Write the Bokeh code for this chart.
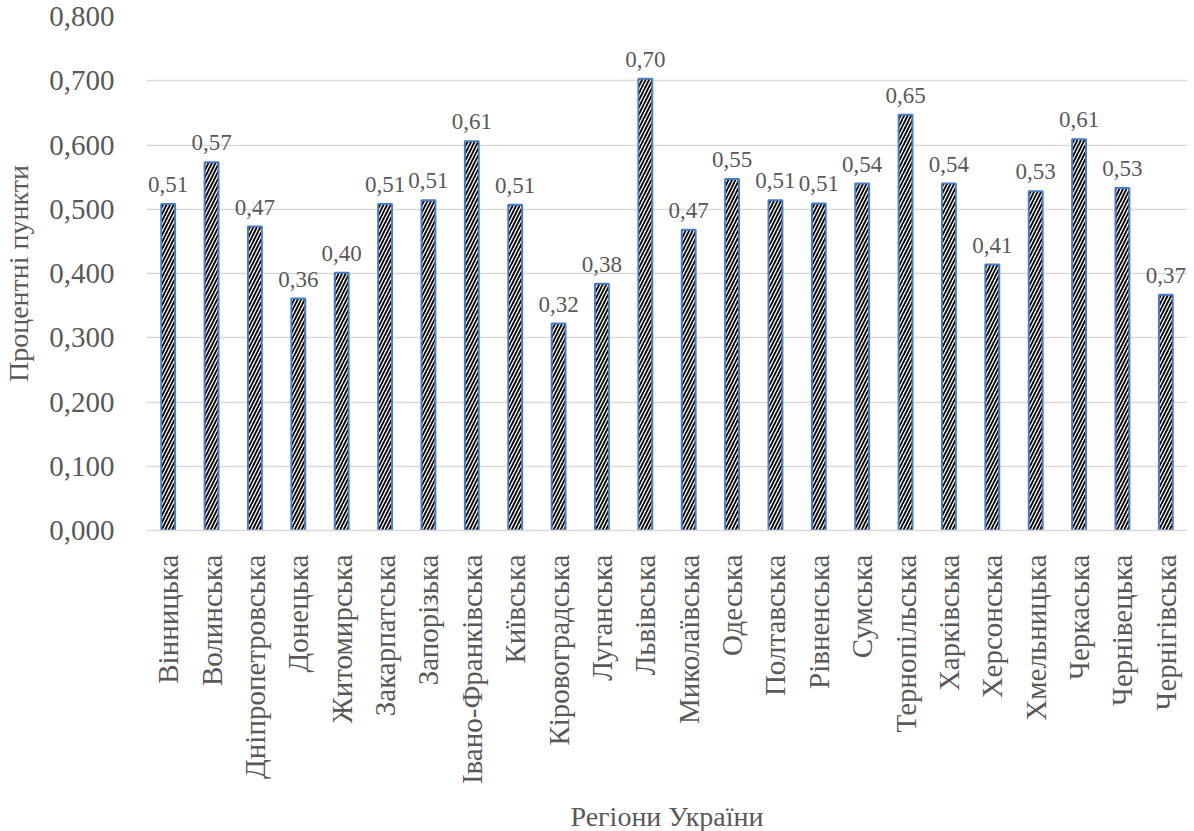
from bokeh.plotting import figure
from bokeh.models import ColumnDataSource, FixedTicker, CustomJSTickFormatter, Range1d, FactorRange, LabelSet
from bokeh.core.properties import value
from bokeh.embed import file_html
from bokeh.resources import INLINE
import math

regions = ["Вінницька", "Волинська", "Дніпропетровська", "Донецька", "Житомирська",
           "Закарпатська", "Запорізька", "Івано-Франківська", "Київська", "Кіровоградська",
           "Луганська", "Львівська", "Миколаївська", "Одеська", "Полтавська", "Рівненська",
           "Сумська", "Тернопільська", "Харківська", "Херсонська", "Хмельницька",
           "Черкаська", "Чернівецька", "Чернігівська"]
values = [0.508, 0.573, 0.473, 0.361, 0.401, 0.508, 0.514, 0.606, 0.507, 0.322,
          0.384, 0.703, 0.468, 0.547, 0.514, 0.509, 0.540, 0.647, 0.540, 0.414,
          0.528, 0.609, 0.533, 0.367]
y_ticks = [0.0, 0.1, 0.2, 0.3, 0.4, 0.5, 0.6, 0.7, 0.8]
y_title = "Процентні пункти"
x_title = "Регіони України"

labels = [("%.2f" % v).replace(".", ",") for v in values]
src = ColumnDataSource(dict(x=regions, y=values, lab=labels))

FONT = "Liberation Serif"
GRAY = "#595959"

p = figure(frame_width=1041, frame_height=514, x_range=FactorRange(*regions), y_range=Range1d(0, 0.8),
           output_backend="svg", toolbar_location=None,
           min_border_left=136, min_border_right=0, min_border_top=16, min_border_bottom=10)
p.outline_line_color = None

p.vbar(x="x", top="y", width=0.32, source=src, fill_color="white",
       line_color="#4A7EC4", line_width=2,
       hatch_pattern="/", hatch_color="black", hatch_scale=7, hatch_weight=1.8)

lbl = LabelSet(x="x", y="y", text="lab", source=src, text_align="center",
               text_baseline="bottom", y_offset=12, text_font=value(FONT),
               text_font_size="23px", text_color=GRAY)
p.add_layout(lbl)

p.yaxis.ticker = FixedTicker(ticks=y_ticks)
p.yaxis.formatter = CustomJSTickFormatter(code="return tick.toFixed(3).replace('.', ',');")
p.yaxis.axis_line_color = None
p.yaxis.major_tick_line_color = None
p.yaxis.minor_tick_line_color = None
p.yaxis.major_label_standoff = 26
p.yaxis.major_label_text_font = FONT
p.yaxis.major_label_text_font_size = "29px"
p.yaxis.major_label_text_color = GRAY
p.yaxis.axis_label = y_title
p.yaxis.axis_label_text_font = FONT
p.yaxis.axis_label_text_font_size = "28px"
p.yaxis.axis_label_text_font_style = "normal"
p.yaxis.axis_label_text_color = GRAY
p.yaxis.axis_label_standoff = 12

p.xaxis.axis_line_color = "#D9D9D9"
p.xaxis.axis_line_width = 1.5
p.xaxis.major_tick_line_color = None
p.xaxis.minor_tick_line_color = None
p.xaxis.major_label_orientation = math.pi / 2
p.xaxis.major_label_standoff = 18
p.xaxis.major_label_text_font = FONT
p.xaxis.major_label_text_font_size = "29px"
p.xaxis.major_label_text_color = GRAY
p.xaxis.axis_label = x_title
p.xaxis.axis_label_text_font = FONT
p.xaxis.axis_label_text_font_size = "28px"
p.xaxis.axis_label_text_font_style = "normal"
p.xaxis.axis_label_text_color = GRAY
p.xaxis.axis_label_standoff = 14

p.xgrid.grid_line_color = None
p.ygrid.grid_line_color = "#D9D9D9"
p.ygrid.grid_line_width = 1.5

open("out.html", "w").write(file_html(p, INLINE))
